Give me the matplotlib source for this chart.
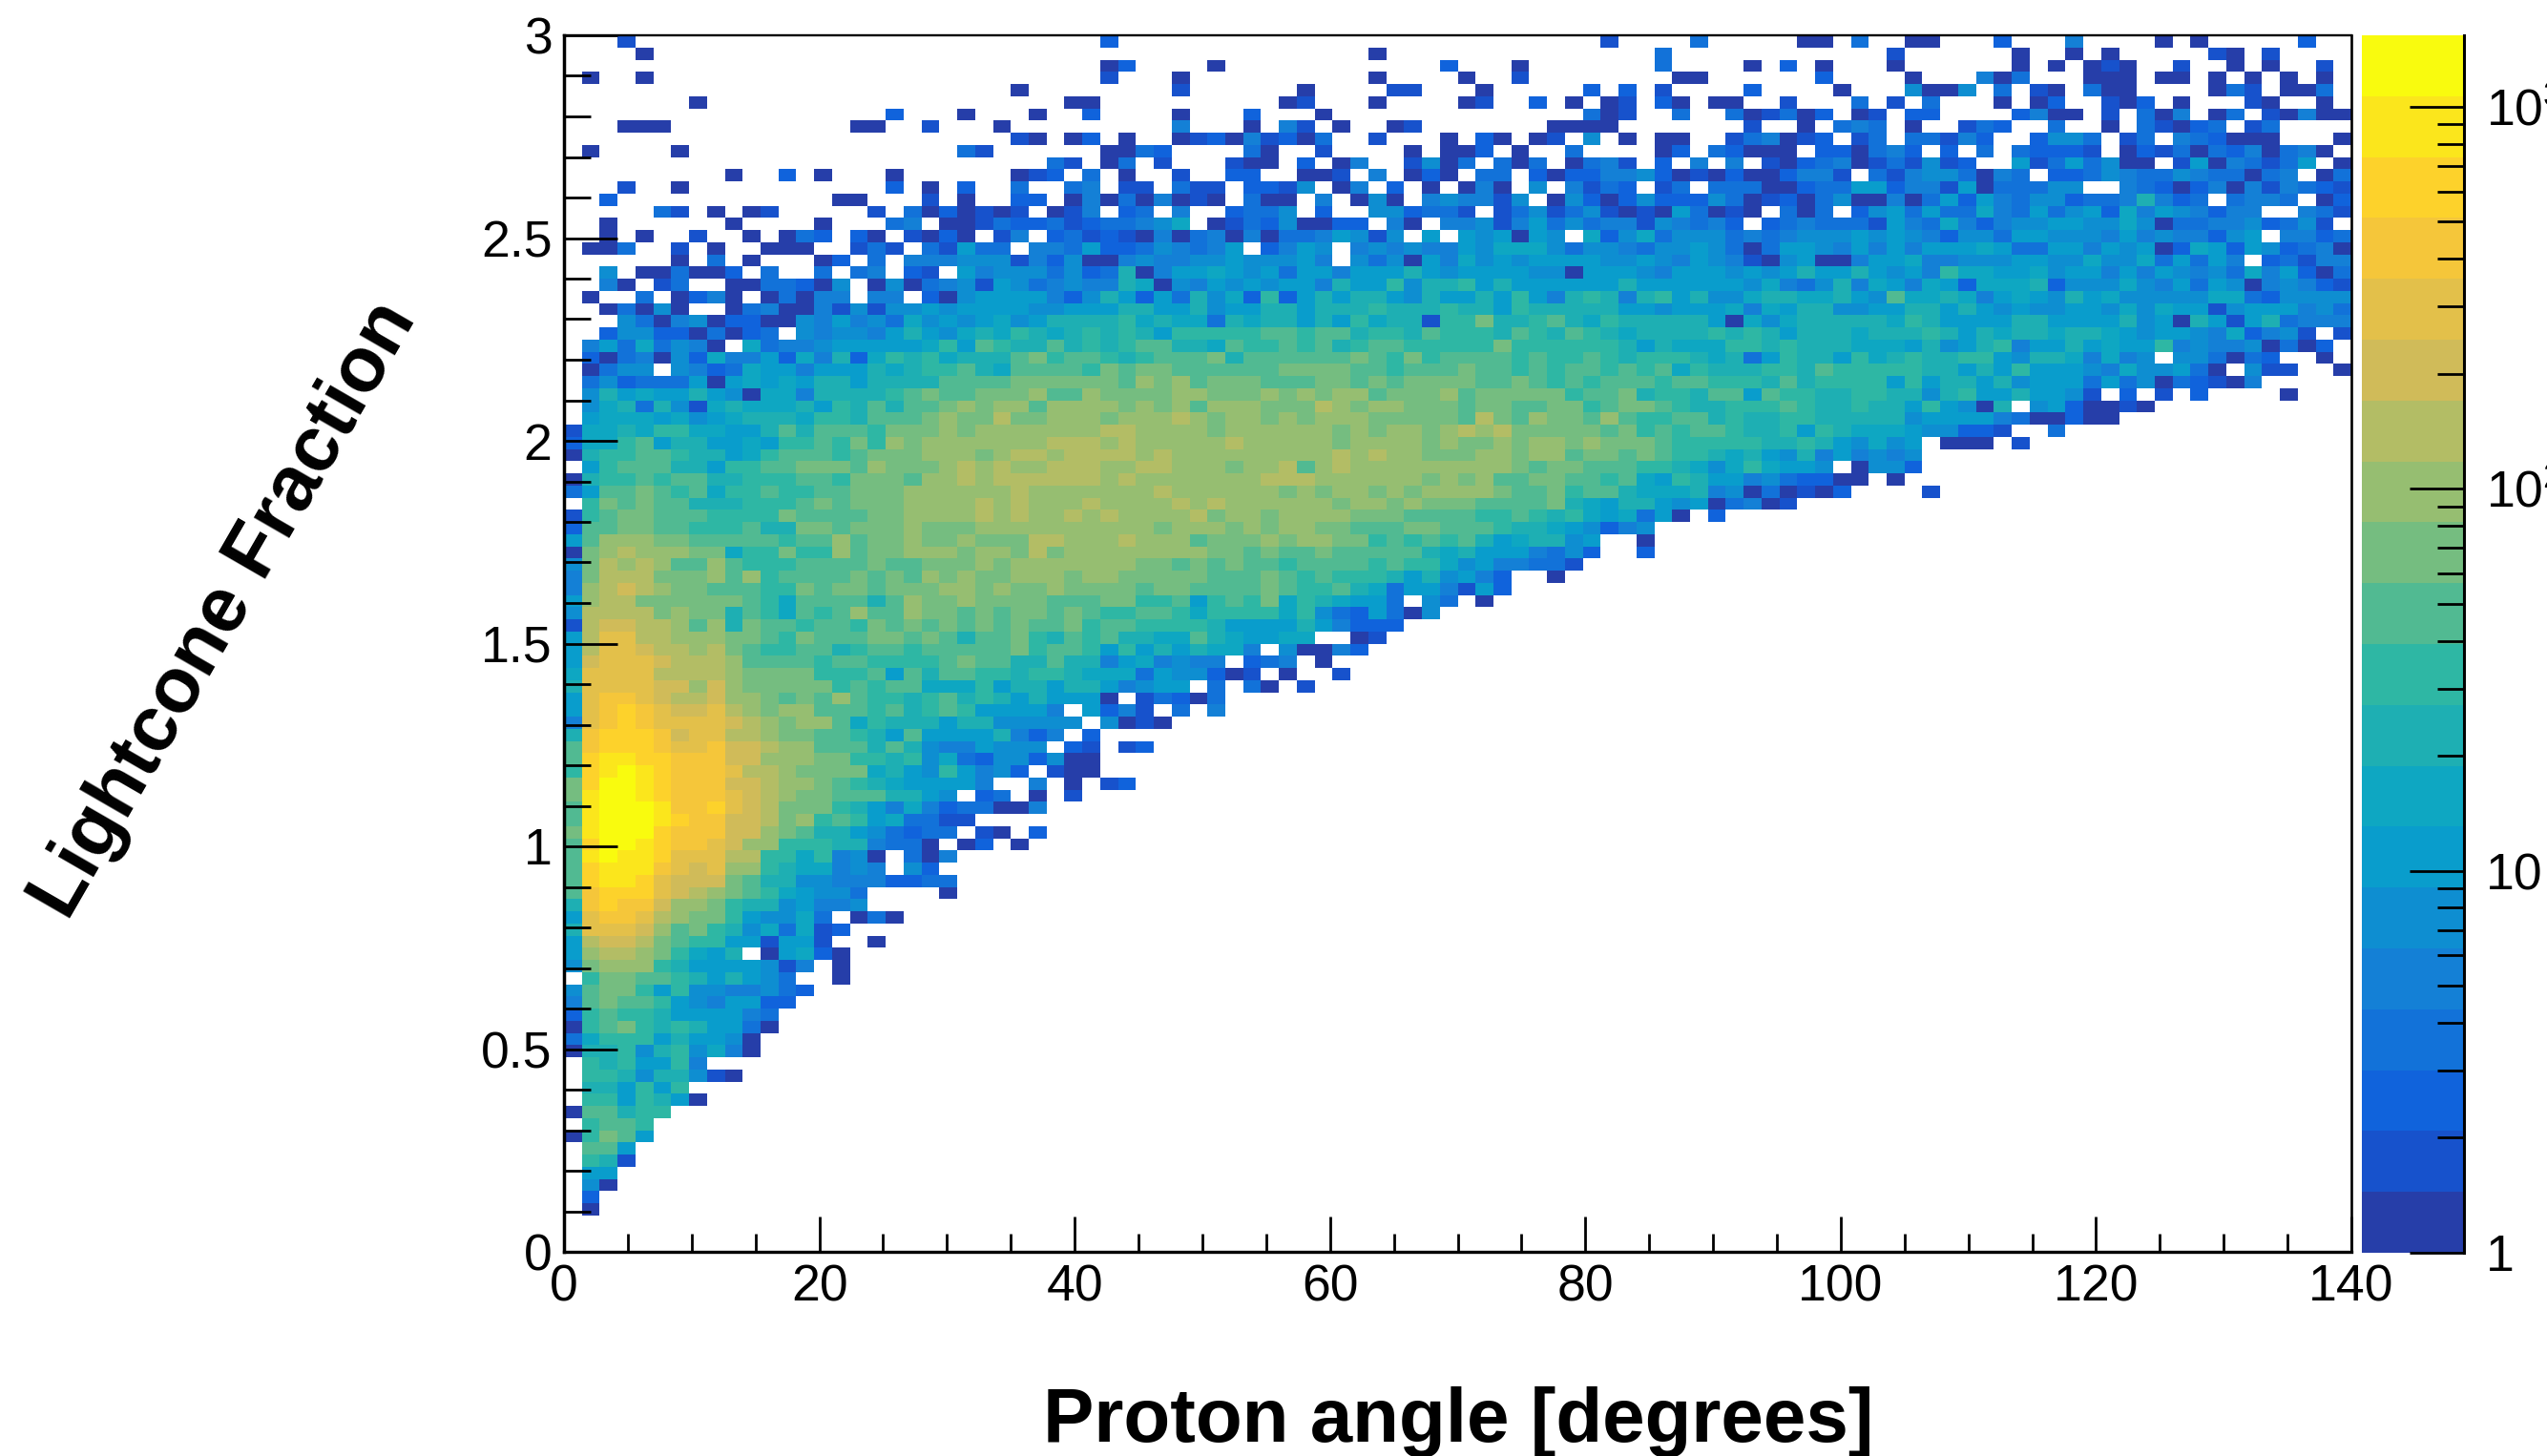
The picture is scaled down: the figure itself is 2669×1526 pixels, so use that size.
import numpy as np
import matplotlib
matplotlib.use("Agg")
import matplotlib.pyplot as plt
from matplotlib.colors import BoundaryNorm, ListedColormap
from matplotlib.ticker import FixedLocator, LogLocator, NullFormatter

plt.rcParams["font.family"] = "Liberation Sans"
plt.rcParams["mathtext.fontset"] = "custom"
plt.rcParams["mathtext.rm"] = "Liberation Sans"

X_MAX = 140
Y_MAX = 3
Z_MAX = 1538
N_LEVELS = 20
N_BINS = 100
LEVEL_CHARS = "abcdefghijklmnopqrst"

x_ticks = [0, 20, 40, 60, 80, 100, 120, 140]
y_ticks = [0, 0.5, 1, 1.5, 2, 2.5, 3]
y_tick_labels = ["0", "0.5", "1", "1.5", "2", "2.5", "3"]
z_ticks = [1, 10, 100, 1000]
z_tick_labels = ["1", "10", r"$\mathrm{10^{2}}$", r"$\mathrm{10^{3}}$"]

# kBird palette stops from ROOT
bird_r = [0.2082, 0.0592, 0.0780, 0.0232, 0.1802, 0.5301, 0.8186, 0.9956, 0.9764]
bird_g = [0.1664, 0.3599, 0.5041, 0.6419, 0.7178, 0.7492, 0.7328, 0.7862, 0.9832]
bird_b = [0.5293, 0.8684, 0.8385, 0.7914, 0.6425, 0.4662, 0.3499, 0.1968, 0.0539]

# one string per y bin, top row first. a..t is the colour level, . is an empty bin
# four groups of 25 x bins, short groups are padded with empty bins
rows = [
    "...b .....c ........b....d.....aa.d.. aa...c...e....a.a.....c..",
    "....a ....................a ...........d............b ......a..a.a.....ba.b",
    ". .....ac....a............c ...a.......d....a.c.a...a ......a.a.aba..b..a.a..b.",
    ".a..a .....b...a..........a a..b........aa......c a...ead...aaa.aa.a.a.a.a.",
    ". a........b......a....bb .a.....c.c.b....c....a faaf.d.ba.daa....adb.aad.",
    ".......a ...aa..........ab...a ab..c.a.ab.ca.aa..b...d.b .d...a.ac..bac.a...ba..a.",
    "..................c...a .a..c....a...c...a .......dab..d..dabdac.ab. cc....ceaa.b.dae.ad.baeaa",
    "...aaa..........aa..b...a .........e...a.eb.a..ab .....aaaa.......b..a.ded a..bdc..d..a.dbacd.bd",
    ". ba.ac.a..abcaebcad..b...a .ca.ab.f.a.aa..bdeabc.bd. ddbec..cffd.bd.edcaaa...a",
    ".a....a...............db .....aadc....da..b....a.a ac.a..d....ac.dcaaa.ccade c.c.d.dcccb.acbdadceadea.",
    ". ..db.ad.b...baa.c.ae..bfa d.dad.adeb.c.e.e.bacdeabd bfbc..gbdgdfaa.bgaedbdg.a",
    ".........a..c.a...a abc.d.a..b..cc..aab.e.aca .dd.cacceefcabacaaceeb.db effdaed.ccdfeddfeddade.ad",
    "...b..a...........c.a.c d..de.bb.dbb.ccbf.ae.c.a. aea.f.ebdc.bd.dddaacddggc eebgadddff..edcaceaebedcb",
    "..c............aa...b.a cc.aeadaeaba.daa.e.afa.ef eebf.afcacfcccfdabcadfaae adgcgedffcddeiecd.deed.ac",
    ".....db.a.ab.....b.dacaba b.abe.cd.e..cddf.c..ffcdd b.bdfbdfbabagdaba.dad.cfg dgddhedgdfgchegfecee..edb",
    "..a......a....a...de.aabd ccdbcddefh.abdcfaacc.ea.e efbegdfdeebfedec.cdedddbg edheceffggffhfaddeefcdfb.",
    "..a.a..b..a.adc.ca.baca.b e.cdbcbaeadeaeaddegfbf.g. gfgagf.hcfhdfffdedefffgfg fecffdggfffegefeecfg.eecd",
    ".aad..b.a..aaa..bdb.dbgdd .eedgccdfedeg.cegf.efefee gfhhhfdffedffgfdadggfegeg eggghgddggegfgachgcgfcdea",
    "......a.d.a...ac.d.eeefff becfaaefeeffgfffge.fdfage hfgfggggffgfegfebafgaaegg heefffggffhffhdgdge.cdbee",
    "..f.aadaac.d..d.de.cb.gef ffdfcdiaegghgfgdggegggigf ggggffagggfegggfgfgiggigf gejhhgghfggegegfefdhegcad",
    "..ea.bd..aaddcaf.afadefbg fdefeeihafegfgfggeiggjfii jgiggggggiggggggfhedfiehg ehgchhhicfffhfegdgfaefecb",
    ".a..d.acea.adaee.ee.cafgg ggecfigcgdifhcjcgigiigfig gigjgeijieijgiffhiihhigfk hhiheghgfighfffffhhdcffff",
    "..adafa..adeaaebfbffgfggg gffgggiiggifggiigiiijiiij iigjiiiiiggfggghehgiiffgg iigigfgffggfhfhggbfgggefd",
    "...fdaefaccaafegefdhfgfgh fgiiiijhihhdihiigigjhiibj jliijkihjiiiiigahfhiiiiih jiggggiiggggifgaigbgideee",
    "..cffccadacd.feffegigfhih jihijijigjjjjjkkjkkijjikj jjikjikjihiiiijijigiiihii ijigihiihiihgfggfehcefb.b",
    ".egdhdfea.hdeefggggghjgkj iikijijkkiihkjjkjkijkkjjj jjljjjjjjigihhhjjijiiihhh gifgijeggighggjefeefadac.",
    ".cadeafcheegcheichjijhiii kljkkjijkkklikkkkkklkjljk kkkjkjjkjijjjihidgjiigjhi jiijjgfiihehef.ffdadc..a.",
    ".adff.fecdhggegggihijjkih kkkkjlkllkkkkkkllllkkjkkk lkkjkjkkjkjkhjiiijjikjjjj jiigigjgggfehffgda.fbb..a",
    ".dfcdddgaghghgiigiiiikkkk llllllkmlmklllkkkllklklll lkklkjkjkkkjkkjjjikijjjjg jgiigifgggdgdfadcbae",
    ".fighggigfahheiiiijklkkll lmkkmllllmmlllmlmlmmklllm kllllljkklijjikkgkjjiijji ifijggiggfb.c.b.c....a",
    ".fhidifbhihhhigjikikklmlm mkmmmmlmlmkmmmlllnmlmmlll kllkklljkllkjiijjjkjiijii gjgfai.fgcaaba",
    ".ghhhghfghiiihjjikkklmlln llmmmlmmmnmlmmlmlmmmlllll knlkmllkmkjjkkijiijjiiiii fggggedaacaa",
    "bhhihjjhhggikikkkjlllmlmm mmmmmnnmmmmlmmmmmmlmlmmlm nmnlllllkljkjkkjiijgjihhh gffccb..d",
    "chhjkgiigghgjjkjljmlmmmmm mmnnnmnmmmmmnmmmmmlmmmmlm llmlmmlmlllkjjjjjiijigfhf g.aaa.b",
    "aijjkkjiighjkkkjklllmmmlm nnmnnnnmnmmmmmmmmmnmnmmll lmmlmmkllklkjjihigfiegefe f",
    ".gjkkkiigjjkklllkmlllmnmn mmnnnmmnnmmmlmmnkmnmmmmmm mmmlkllkkkjjihfhjhggf.aff c",
    "aijjkjkkiijjjkkjlllkmmnmn nnnnnmnmmmmmmmnnnmmmmmmlm lmkkllkkjkhgjiggefdccaa.a",
    "dgkklkjkhjjkjjkklllmmmmmm nmmmmmmmnmmmmmmlmlmmlmlmm mmlkkljkkihhhiefadabac .b",
    ".jlklkkiiijjjklklllmmmmnm nmmmnmmmmnmnmmmmmmlmmlmll lkkkklihgiigfgadeab",
    "bjkllkkkjjjjlkkkkllmmmmnm nmmnmnmmmmnlmmlmmmmlllkkk kjjkjijhghdga.c",
    "ckkllkkjjjkiillklllmlllmm mmmmmmmmlmmmlmlmmllkkkllk kkjiihgfcef",
    "gkmmmllkkkkkjkkmkllmllmll lnnmmmnmmmklllmlmmlljkjkj kighiifg..a",
    "almnmmmllhjjljjmkllmmmlmm lnlmmmmmmmmllklkklkkkkkih igggedfc..c",
    "flnmnmkkmkjjjkkkklkklllml mmmmmmmllklklkkjkkkkjkjjh fgeeddb",
    "elnnnlllmkmjkkkklklkmlmll mmmlmmlllllkkklkjkjjjigif gec..a",
    "emnonmllkkkjjlkllklllmmlm llmllllkllkkkklkjjkihdgge bgc",
    "gmnnllllllkjhkkkkikmllmll llkkklljjkgjkjlhjihggd.fd .a",
    "fnnnnlmllikjhkjkmkkmllklk llklkjjkkjhjjjjhjfdcgdaf",
    "bnoonnmkmilkkjkkjlklklklk lkkljkkjjjjiggggigeccc",
    "gnppnnmmmllkjlkkkllklkikk ljikjkiihhkihgghh..ab",
    "gnpponnmnlkjjkkijkkjkkkkk ljkkjgjgigihhe.faaec",
    "goppponnnmkkkkjkkjjjjklkk iikiieghefee.cde.a",
    "hppppnnnnmlllljjjkgkikkjj ijjihhhdgffcab.a..b",
    "ippppoomomllllljkjkkhhhjg iigiigefgg.d.da.b",
    "gpqqponnommlklkmkjjijkiji giggga.bdcad",
    "gpqrqpoopnmlmmkkkjkijkjgg gge.gceb.d.e",
    "epqrqpppponmlmmkhjiiigiif ffff.faba",
    "iqrrrqoppnnmllkkjigkggggi ece.c",
    "kqrrrqppqoonmmkkkikifeegf ff.cb.bc",
    "krssrrqqqoommmlljjijfhdcf fcfaa",
    "jrstsrqqqpnnmllllhigfjgef c.baa",
    "lrttsrqqqoonmmlkjihgggge. .e.a.bc",
    "lsttsrqqqponmllkkkiigf.cd .a.b",
    "kstttsqqrponllljigehecdda ae",
    "kstttsrqqoonlmjkjghddbb..",
    "lstttrqqqoomlkiigfdcdd.ba .c",
    "krttsrqqpommjjjiiedda.ac. a",
    "kstssrpppnnjjhjefa.dae",
    "krsssqpopmmjihhefe.fc",
    "krssrpooolkiiffeeeccdd",
    "kqrrrponmlkjhgffd....a",
    "iqrqqommljiifgeef",
    "gpqqpnmlljgffhd.ada",
    "ipppomkljifhdhbc",
    "gnoonlkjjggbggb..a",
    "gmnnmljhgi.aghca",
    "flmmmjiggggfbe.a",
    ".jllkkjigigfd..a",
    "fklljgjffeefdc",
    "eklkkjgfeggcc",
    "cjkjjigggged",
    "ajkljijiggda",
    "dhjjjgiggfa",
    "aiijfijfhea",
    ".jijggje",
    ".jjifiifba",
    ".iigjgj",
    ".jjgjiga",
    "akkijj",
    ".jkkj",
    "ajlkg",
    ".kkg",
    ".jib",
    ".gg",
    ".fa",
    ".c",
    ".a",
    ".",
    ".",
    ".",
]


def px_to_fig(left, top, right, bottom):
    # axes rectangle from pixel positions in the 2669x1526 picture
    return [left / 2669, 1 - bottom / 1526, (right - left) / 2669, (bottom - top) / 1526]


def parse_rows(text_rows, level_counts):
    counts = np.full((N_BINS, N_BINS), np.nan)
    for i, row in enumerate(text_rows):
        chars = "".join(group.ljust(25, ".")[:25] for group in row.split())
        for j, ch in enumerate(chars[:N_BINS]):
            if ch != ".":
                counts[N_BINS - 1 - i, j] = level_counts[LEVEL_CHARS.index(ch)]
    return counts


z_edges = np.logspace(0, np.log10(Z_MAX), N_LEVELS + 1)
z_mid = np.sqrt(z_edges[:-1] * z_edges[1:])
hist = parse_rows(rows, z_mid)

stops = np.linspace(0, 1, len(bird_r))
pos = (np.arange(N_LEVELS) + 0.99) / N_LEVELS
colors = np.column_stack(
    [np.interp(pos, stops, bird_r), np.interp(pos, stops, bird_g), np.interp(pos, stops, bird_b)]
)
cmap = ListedColormap(colors)
cmap.set_bad("white")
norm = BoundaryNorm(z_edges, N_LEVELS)

fig = plt.figure(figsize=(26.69, 15.26), dpi=100)
ax = fig.add_axes(px_to_fig(591, 37, 2464, 1312))
x_edges = np.linspace(0, X_MAX, N_BINS + 1)
y_edges = np.linspace(0, Y_MAX, N_BINS + 1)
ax.pcolormesh(x_edges, y_edges, np.ma.masked_invalid(hist), cmap=cmap, norm=norm, antialiased=False)
ax.set_xlim(0, X_MAX)
ax.set_ylim(0, Y_MAX)

ax.set_xticks(x_ticks)
ax.set_xticklabels([str(t) for t in x_ticks])
ax.set_yticks(y_ticks)
ax.set_yticklabels(y_tick_labels)
ax.xaxis.set_minor_locator(FixedLocator(np.arange(0, X_MAX + 1, 5)))
ax.yaxis.set_minor_locator(FixedLocator(np.arange(0, Y_MAX + 0.01, 0.1)))
ax.tick_params(axis="x", which="major", direction="in", length=27, width=2.0, labelsize=38.5, pad=9)
ax.tick_params(axis="x", which="minor", direction="in", length=14, width=2.0)
ax.tick_params(axis="y", which="major", direction="in", length=40, width=2.0, labelsize=38.5, pad=9)
ax.tick_params(axis="y", which="minor", direction="in", length=20, width=2.0)
for side, lw in [("left", 2.5), ("bottom", 2.4), ("top", 1.7), ("right", 1.9)]:
    ax.spines[side].set_linewidth(lw)

cax = fig.add_axes(px_to_fig(2475, 37, 2582, 1313))
cax.pcolormesh([0, 1], z_edges, np.arange(N_LEVELS).reshape(-1, 1), cmap=cmap, vmin=0, vmax=N_LEVELS - 1, antialiased=False)
cax.set_yscale("log")
cax.set_ylim(1, Z_MAX)
cax.set_xlim(0, 1)
cax.set_xticks([])
for side in ["left", "top", "bottom"]:
    cax.spines[side].set_visible(False)
cax.spines["right"].set_linewidth(2.2)
cax.yaxis.tick_right()
cax.set_yticks(z_ticks)
cax.set_yticklabels(z_tick_labels)
cax.yaxis.set_minor_locator(LogLocator(base=10, subs=np.arange(2, 10)))
cax.yaxis.set_minor_formatter(NullFormatter())
cax.tick_params(axis="y", which="major", direction="in", length=41, width=2.0, labelsize=38.5, pad=16.5)
cax.tick_params(axis="y", which="minor", direction="in", length=20, width=2.0)

fig.text(1528 / 2669, 1 - 1511 / 1526, "Proton angle [degrees]", fontsize=57.5, fontweight="bold",
         ha="center", va="baseline")
fig.text(254 / 2669, 1 - 650 / 1526, "Lightcone Fraction", fontsize=58.5, fontweight="bold",
         rotation=60, rotation_mode="anchor", ha="center", va="baseline")

fig.savefig("out.png", dpi=100)
